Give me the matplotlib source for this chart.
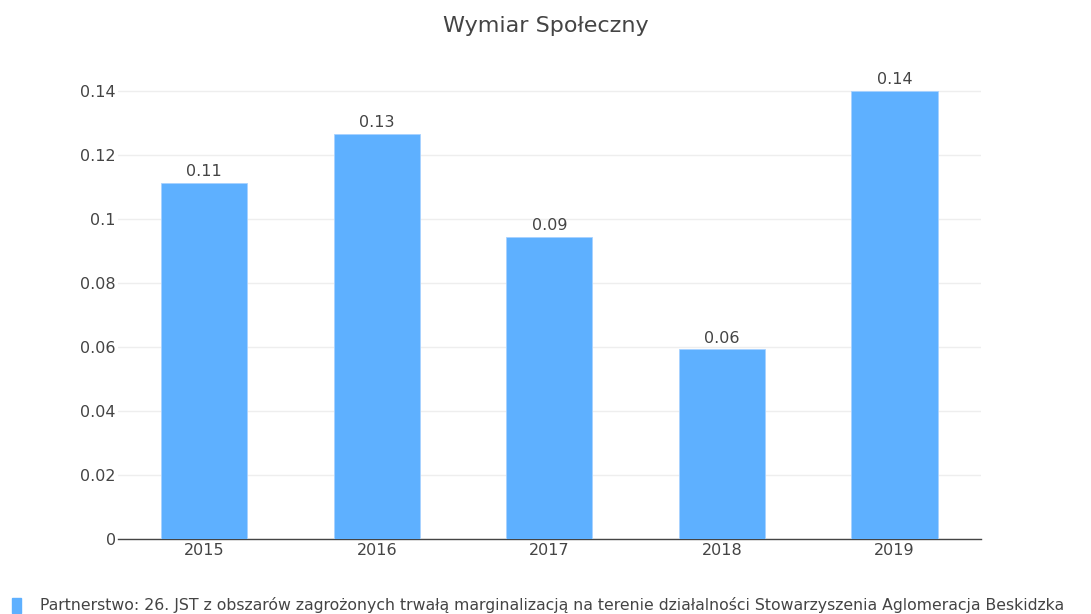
import matplotlib
matplotlib.use("Agg")
import matplotlib.pyplot as plt
from matplotlib.patches import Rectangle

plt.rcParams["font.family"] = ["DejaVu Sans"]

# data
years = ["2015", "2016", "2017", "2018", "2019"]
values = [0.1113, 0.1266, 0.0942, 0.0592, 0.1400]
labels = ["0.11", "0.13", "0.09", "0.06", "0.14"]
yticks = [0, 0.02, 0.04, 0.06, 0.08, 0.1, 0.12, 0.14]
ytick_labels = ["0", "0.02", "0.04", "0.06", "0.08", "0.1", "0.12", "0.14"]
title = "Wymiar Społeczny"
legend_text = ("Partnerstwo: 26. JST z obszarów zagrożonych trwałą marginalizacją "
               "na terenie działalności Stowarzyszenia Aglomeracja Beskidzka")

bar_color = "#5eb0ff"
text_color = "#444444"

fig = plt.figure(figsize=(10.91, 6.14), dpi=100)
ax = fig.add_axes([0.108, 0.122, 0.791, 0.767])

x = list(range(len(years)))
ax.bar(x, values, width=0.5, color=bar_color, edgecolor="#a8d2ff", linewidth=0.6, zorder=3)
for xi, v, lab in zip(x, values, labels):
    ax.text(xi, v + 0.0012, lab, ha="center", va="bottom", fontsize=11.5, color=text_color)

ax.set_xlim(-0.5, 4.5)
ax.set_ylim(0, 0.147)
ax.set_xticks(x)
ax.set_xticklabels(years)
ax.set_yticks(yticks)
ax.set_yticklabels(ytick_labels)
ax.tick_params(axis="both", length=0, labelsize=11.5, labelcolor=text_color)
ax.tick_params(axis="x", pad=3)
ax.tick_params(axis="y", pad=1.5)
ax.grid(axis="y", color="#eeeeee", linewidth=1, zorder=0)
for side in ["top", "right", "left"]:
    ax.spines[side].set_visible(False)
ax.spines["bottom"].set_color(text_color)
ax.spines["bottom"].set_linewidth(1)

fig.text(0.5, 0.958, title, ha="center", va="center", fontsize=16, color=text_color)

# legend at the bottom
fig.patches.append(Rectangle((12 / 1091, 1 - 613 / 614), 9 / 1091, 15 / 614,
                             transform=fig.transFigure, color=bar_color))
fig.text(40 / 1091, 1 - 605 / 614, legend_text, ha="left", va="center",
         fontsize=11.3, color=text_color)

fig.savefig("out.png", dpi=100)
